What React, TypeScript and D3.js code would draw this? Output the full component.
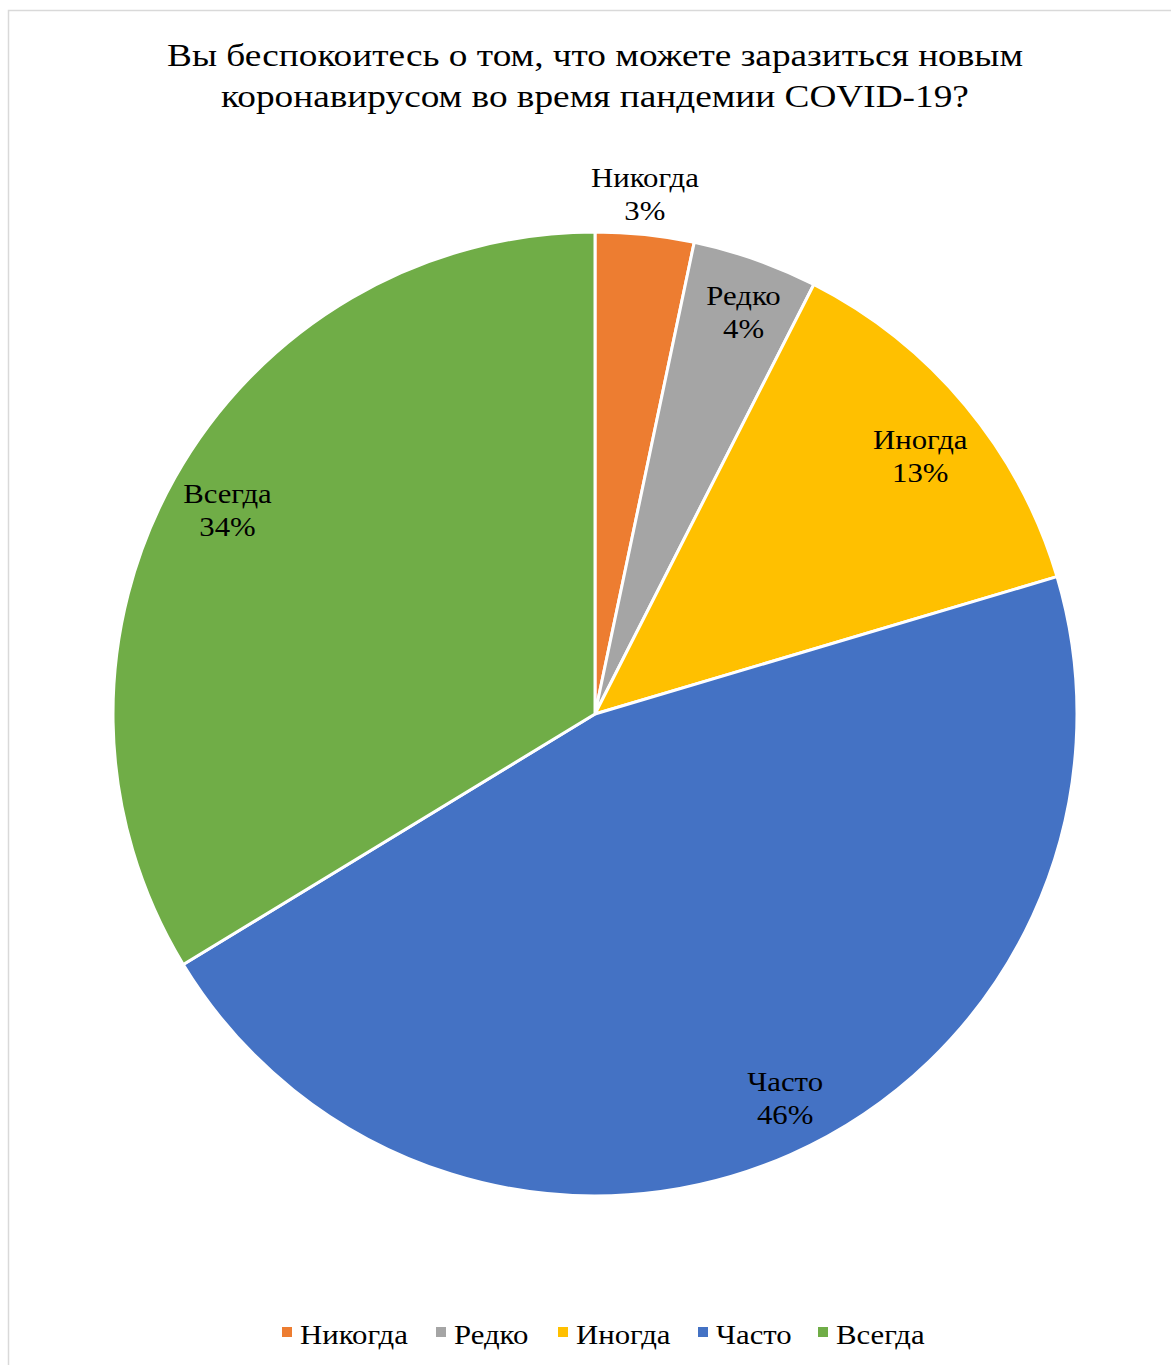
import React from "react";
import * as d3 from "d3";

const categories = ["Никогда", "Редко", "Иногда", "Часто", "Всегда"];
const values = [3.3, 4.2, 12.9, 45.9, 33.7];
const percentLabels = ["3%", "4%", "13%", "46%", "34%"];
const colors = ["#ED7D31", "#A5A5A5", "#FFC000", "#4472C4", "#70AD47"];
const titleLines = [
  "Вы беспокоитесь о том, что можете заразиться новым",
  "коронавирусом во время пандемии COVID-19?",
];

const W = 1171;
const H = 1365;
const cx = 595;
const cy = 714;
const R = 482;
const FONT = "'Liberation Serif', 'Times New Roman', serif";
const SX = 1.14;
// small label placement tweaks (layout, not data)
const labelNudge: [number, number][] = [
  [-4, -2],
  [9, -7],
  [3, 10],
  [20, 1],
  [-2, 1],
];

export default function App() {
  const pie = d3.pie<number>().value((d) => d).sort(null);
  const arcs = pie(values);
  const arc = d3.arc<d3.PieArcDatum<number>>().innerRadius(0).outerRadius(R);
  const labelArc = d3
    .arc<d3.PieArcDatum<number>>()
    .innerRadius(R * 0.87)
    .outerRadius(R * 0.87);
  const outerArc = d3
    .arc<d3.PieArcDatum<number>>()
    .innerRadius(R * 1.08)
    .outerRadius(R * 1.08);

  const legendX = [282, 436, 558, 698, 818];

  return (
    <svg
      width={W}
      height={H}
      style={{ position: "absolute", left: 0, top: 0, display: "block" }}
    >
      <rect x={0} y={0} width={W} height={H} fill="#fff" />
      <rect
        x={8.5}
        y={10.5}
        width={W + 20}
        height={H + 20}
        fill="#fff"
        stroke="#d9d9d9"
        strokeWidth={1.5}
      />
      {titleLines.map((t, i) => (
        <g key={i} transform={`translate(${cx},${66 + i * 41}) scale(1.148,1)`}>
          <text
            x={0}
            y={0}
            textAnchor="middle"
            fontFamily={FONT}
            fontSize={32.5}
            fill="#000"
          >
            {t}
          </text>
        </g>
      ))}
      <g transform={`translate(${cx},${cy})`}>
        {arcs.map((a, i) => (
          <path
            key={i}
            d={arc(a) || ""}
            fill={colors[i]}
            stroke="#fff"
            strokeWidth={3}
            strokeLinejoin="round"
          />
        ))}
        {arcs.map((a, i) => {
          const [x0, y0] = i === 0 ? outerArc.centroid(a) : labelArc.centroid(a);
          const x = x0 + labelNudge[i][0];
          const y = y0 + labelNudge[i][1];
          return (
            <g key={i} transform={`translate(${x},${y}) scale(${SX},1)`}>
              <text
                textAnchor="middle"
                fontFamily={FONT}
                fontSize={27}
                fill="#000"
              >
                <tspan x={0} y={-7}>
                  {categories[i]}
                </tspan>
                <tspan x={0} y={26}>
                  {percentLabels[i]}
                </tspan>
              </text>
            </g>
          );
        })}
      </g>
      {categories.map((c, i) => (
        <g key={c} transform={`translate(${legendX[i]},1327)`}>
          <rect x={0} y={0} width={10} height={10} fill={colors[i]} />
          <g transform={`translate(18,17) scale(${SX},1)`}>
            <text x={0} y={0} fontFamily={FONT} fontSize={27} fill="#000">
              {c}
            </text>
          </g>
        </g>
      ))}
    </svg>
  );
}
